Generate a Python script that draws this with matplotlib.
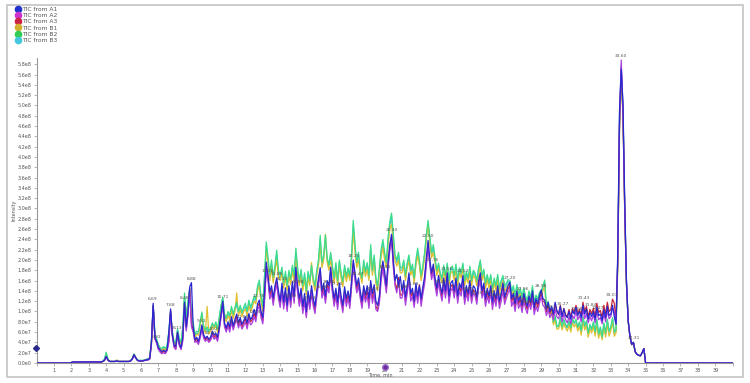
#!/usr/bin/env python3

import numpy as np
import matplotlib
matplotlib.use('Agg')
import matplotlib.pyplot as plt
from matplotlib.lines import Line2D
from matplotlib.patches import Rectangle
from matplotlib.ticker import FuncFormatter, MultipleLocator

# sample times (min): run start, 0.1 min grid over the gradient, run end
time_min = np.concatenate([[0.0, 1.9], np.round(np.arange(2.0, 35.05, 0.1), 1), [35.1, 40.0]])

# TIC intensities in units of 1e6 counts, one row per minute (2.x ... 34.x)
tic_a1 = [0, 0,
  1, 2, 2, 2, 2, 2, 2, 2, 2, 2,
  2, 2, 2, 2, 2, 2, 2, 2, 3, 5,
  13, 6, 3, 3, 3, 3, 4, 3, 3, 3,
  3, 3, 3, 3, 4, 8, 16, 10, 5, 4,
  4, 4, 5, 6, 7, 9, 40, 116, 50, 42,
  30, 26, 22, 25, 22, 26, 60, 105, 55, 35,
  32, 60, 38, 30, 50, 118, 70, 100, 148, 156,
  70, 45, 50, 42, 55, 74, 55, 48, 52, 46,
  50, 62, 54, 58, 50, 70, 95, 120, 78, 68,
  80, 70, 90, 72, 85, 95, 78, 88, 75, 82,
  90, 78, 96, 84, 90, 104, 92, 115, 122, 100,
  88, 140, 196, 170, 138, 150, 126, 150, 165, 140,
  120, 155, 118, 146, 112, 150, 122, 158, 130, 186,
  150, 125, 145, 110, 135, 100, 140, 118, 150, 125,
  110, 140, 165, 185, 140, 155, 130, 160, 150, 186,
  150, 125, 145, 118, 155, 130, 112, 148, 125, 140,
  120, 160, 200, 175, 150, 165, 140, 120, 150, 132,
  150, 125, 160, 135, 152, 120, 112, 130, 175, 198,
  178, 150, 196, 230, 250, 200, 160, 172, 150, 168,
  140, 160, 128, 150, 175, 135, 145, 120, 155, 130,
  150, 125, 148, 168, 205, 238, 200, 175, 192, 165,
  145, 170, 150, 135, 165, 140, 175, 130, 155, 160,
  140, 165, 130, 155, 145, 170, 128, 150, 135, 160,
  130, 150, 145, 128, 160, 175, 140, 155, 125, 145,
  130, 150, 118, 140, 125, 150, 120, 135, 155, 128,
  140, 150, 157, 125, 135, 115, 140, 120, 130, 112,
  135, 120, 110, 130, 118, 140, 108, 125, 115, 130,
  142, 125, 122, 105, 118, 100, 110, 95, 118, 102,
  95, 110, 90, 105, 92, 88, 100, 85, 102, 95,
  108, 92, 100, 88, 112, 95, 105, 85, 98, 90,
  100, 85, 108, 92, 95, 82, 104, 88, 110, 92,
  95, 112, 90, 75, 215, 490, 570, 505, 315, 160,
  82, 52, 36, 40, 22, 17, 15, 14, 20, 28,
  0, 0, 0]

tic_a2 = [0, 0,
  1, 2, 2, 2, 2, 2, 2, 2, 2, 2,
  2, 2, 2, 2, 2, 2, 2, 2, 3, 5,
  11, 5, 3, 3, 3, 3, 3, 3, 3, 3,
  3, 3, 3, 3, 4, 7, 15, 9, 5, 4,
  4, 4, 5, 5, 6, 7, 36, 108, 46, 38,
  26, 21, 18, 20, 18, 24, 40, 98, 52, 30,
  26, 55, 34, 26, 42, 110, 62, 92, 140, 70,
  60, 40, 42, 36, 48, 66, 48, 42, 46, 40,
  44, 54, 46, 50, 42, 64, 88, 112, 70, 60,
  72, 60, 80, 64, 76, 84, 68, 78, 66, 72,
  80, 66, 84, 74, 78, 90, 80, 104, 110, 88,
  76, 120, 180, 160, 124, 136, 112, 138, 152, 125,
  108, 140, 105, 132, 100, 138, 108, 144, 116, 170,
  136, 110, 130, 96, 120, 88, 126, 104, 136, 110,
  96, 128, 152, 170, 126, 140, 116, 146, 136, 172,
  136, 110, 130, 104, 140, 116, 98, 134, 110, 126,
  106, 146, 186, 160, 136, 150, 126, 106, 136, 118,
  132, 106, 146, 116, 136, 104, 100, 116, 160, 184,
  160, 136, 184, 218, 240, 186, 150, 136, 160, 126,
  126, 146, 112, 136, 160, 120, 130, 108, 140, 116,
  146, 110, 134, 154, 190, 225, 188, 162, 178, 150,
  130, 156, 136, 120, 150, 126, 160, 116, 140, 146,
  126, 150, 116, 140, 130, 156, 114, 136, 120, 146,
  116, 136, 130, 114, 146, 160, 126, 140, 110, 130,
  116, 136, 104, 126, 110, 136, 106, 120, 140, 114,
  126, 136, 145, 110, 120, 100, 126, 106, 116, 98,
  120, 106, 96, 116, 104, 126, 94, 110, 100, 116,
  130, 112, 108, 92, 104, 88, 96, 84, 104, 90,
  86, 100, 80, 95, 84, 78, 90, 76, 92, 86,
  100, 84, 92, 80, 104, 86, 96, 78, 90, 82,
  94, 78, 100, 84, 88, 76, 96, 80, 102, 86,
  90, 106, 100, 76, 200, 470, 588, 490, 300, 156,
  82, 52, 36, 40, 22, 17, 15, 14, 20, 28,
  0, 0, 0]

tic_a3 = [0, 0,
  1, 2, 2, 2, 2, 2, 2, 2, 2, 2,
  2, 2, 2, 2, 2, 2, 2, 2, 3, 5,
  12, 6, 3, 3, 3, 3, 4, 3, 3, 3,
  3, 3, 3, 3, 4, 8, 16, 10, 5, 4,
  4, 4, 5, 6, 6, 8, 38, 112, 48, 40,
  28, 24, 20, 23, 20, 26, 42, 102, 56, 33,
  28, 58, 36, 28, 46, 115, 66, 96, 145, 75,
  65, 42, 46, 40, 52, 70, 52, 45, 50, 43,
  47, 57, 50, 54, 46, 68, 92, 116, 74, 64,
  76, 66, 86, 68, 80, 90, 74, 84, 70, 78,
  86, 72, 90, 80, 84, 96, 86, 110, 116, 95,
  82, 126, 186, 166, 130, 142, 118, 144, 158, 132,
  114, 148, 110, 138, 106, 144, 114, 150, 122, 178,
  142, 116, 138, 102, 126, 92, 132, 108, 142, 116,
  102, 134, 158, 178, 132, 146, 122, 152, 142, 180,
  142, 116, 136, 110, 146, 122, 104, 140, 116, 132,
  112, 152, 194, 166, 142, 156, 132, 112, 142, 124,
  140, 114, 152, 124, 142, 110, 104, 124, 168, 192,
  166, 142, 190, 226, 246, 194, 156, 142, 166, 132,
  132, 152, 120, 142, 166, 128, 138, 114, 148, 122,
  152, 118, 142, 162, 196, 232, 195, 170, 185, 158,
  138, 162, 142, 128, 158, 132, 168, 122, 148, 152,
  132, 158, 122, 148, 138, 162, 120, 142, 128, 152,
  122, 142, 138, 120, 152, 168, 132, 148, 118, 138,
  124, 144, 112, 134, 118, 144, 114, 130, 150, 122,
  134, 144, 150, 118, 130, 108, 134, 114, 124, 106,
  130, 114, 104, 124, 112, 134, 102, 120, 108, 124,
  138, 120, 118, 100, 114, 96, 106, 92, 114, 100,
  94, 112, 90, 106, 94, 90, 104, 88, 106, 98,
  112, 96, 104, 92, 118, 100, 110, 90, 104, 96,
  106, 90, 116, 98, 102, 88, 112, 94, 118, 100,
  104, 124, 116, 84, 195, 460, 575, 480, 295, 155,
  82, 52, 36, 40, 22, 17, 15, 14, 20, 28,
  0, 0, 0]

tic_b1 = [0, 0,
  1, 2, 2, 2, 2, 2, 2, 2, 2, 2,
  2, 2, 2, 2, 2, 2, 2, 2, 3, 6,
  15, 6, 3, 3, 3, 3, 6, 4, 3, 3,
  3, 3, 3, 3, 4, 8, 16, 10, 5, 4,
  4, 5, 5, 6, 7, 9, 40, 105, 52, 42,
  32, 27, 25, 28, 25, 30, 55, 95, 55, 38,
  36, 60, 44, 36, 62, 125, 82, 112, 138, 88,
  70, 50, 56, 54, 74, 92, 68, 58, 110, 56,
  62, 72, 66, 74, 60, 84, 105, 120, 88, 80,
  92, 84, 102, 86, 100, 136, 92, 104, 90, 100,
  105, 92, 112, 100, 108, 120, 115, 140, 150, 120,
  100, 160, 220, 195, 160, 185, 155, 180, 200, 165,
  160, 175, 145, 168, 140, 170, 152, 178, 160, 205,
  170, 150, 170, 140, 165, 132, 166, 150, 195, 155,
  140, 170, 190, 230, 185, 200, 250, 195, 180, 200,
  178, 155, 185, 150, 190, 165, 148, 180, 158, 175,
  160, 198, 255, 215, 185, 202, 170, 155, 188, 168,
  182, 160, 215, 170, 198, 155, 140, 175, 205, 225,
  200, 185, 230, 260, 270, 236, 198, 188, 200, 175,
  175, 188, 160, 185, 198, 170, 180, 155, 190, 208,
  190, 160, 180, 205, 240, 272, 232, 204, 215, 195,
  170, 185, 165, 155, 178, 160, 182, 150, 175, 178,
  160, 180, 150, 175, 165, 184, 150, 166, 155, 176,
  150, 170, 165, 150, 172, 188, 160, 172, 145, 162,
  145, 162, 136, 155, 140, 162, 135, 150, 160, 140,
  145, 152, 150, 130, 140, 120, 142, 125, 135, 118,
  135, 120, 112, 130, 118, 140, 108, 122, 115, 128,
  130, 140, 150, 100, 110, 92, 100, 74, 84, 66,
  66, 80, 64, 76, 68, 62, 74, 60, 78, 70,
  76, 62, 72, 54, 82, 64, 74, 50, 66, 58,
  72, 52, 76, 48, 62, 45, 70, 50, 76, 52,
  62, 80, 52, 58, 185, 450, 550, 480, 295, 150,
  80, 50, 35, 40, 22, 17, 15, 14, 20, 28,
  0, 0, 0]

tic_b2 = [0, 0,
  1, 2, 2, 2, 2, 2, 2, 2, 2, 2,
  2, 2, 2, 2, 2, 2, 2, 2, 4, 8,
  21, 8, 3, 3, 3, 3, 5, 3, 3, 3,
  3, 3, 3, 3, 5, 9, 18, 11, 6, 5,
  5, 5, 6, 7, 8, 10, 45, 112, 56, 46,
  36, 30, 28, 32, 28, 34, 62, 100, 62, 42,
  40, 66, 48, 40, 70, 136, 90, 120, 145, 96,
  78, 56, 62, 60, 80, 99, 72, 64, 70, 62,
  68, 78, 70, 80, 66, 90, 112, 128, 95, 88,
  100, 92, 110, 95, 108, 118, 100, 112, 98, 108,
  116, 100, 122, 108, 118, 130, 125, 150, 161, 130,
  110, 170, 235, 205, 172, 200, 167, 190, 219, 180,
  170, 186, 155, 178, 150, 180, 162, 190, 170, 223,
  185, 160, 182, 150, 175, 140, 178, 160, 190, 165,
  150, 180, 200, 248, 195, 210, 248, 205, 190, 215,
  190, 165, 195, 160, 200, 175, 158, 190, 168, 185,
  170, 210, 277, 230, 195, 215, 180, 165, 200, 178,
  195, 170, 230, 180, 210, 165, 150, 185, 220, 240,
  215, 195, 245, 275, 291, 250, 210, 200, 215, 185,
  185, 200, 170, 195, 210, 180, 192, 165, 200, 223,
  200, 170, 190, 215, 250, 277, 245, 215, 230, 205,
  180, 194, 175, 165, 190, 170, 194, 160, 185, 188,
  170, 192, 160, 185, 175, 194, 160, 178, 165, 188,
  160, 180, 175, 160, 185, 200, 170, 182, 155, 172,
  155, 172, 145, 165, 150, 172, 145, 160, 170, 150,
  155, 162, 160, 140, 150, 130, 152, 135, 145, 128,
  145, 130, 122, 140, 128, 150, 118, 132, 125, 138,
  140, 150, 161, 110, 120, 100, 108, 80, 92, 70,
  72, 90, 70, 85, 75, 70, 82, 68, 86, 78,
  85, 70, 80, 62, 90, 72, 82, 58, 75, 66,
  80, 60, 85, 56, 70, 50, 78, 58, 85, 62,
  70, 88, 60, 65, 190, 455, 555, 485, 300, 152,
  80, 52, 36, 40, 22, 17, 15, 14, 20, 28,
  0, 0, 0]

tic_b3 = [0, 0,
  1, 2, 2, 2, 2, 2, 2, 2, 2, 2,
  2, 2, 2, 2, 2, 2, 2, 2, 3, 7,
  18, 7, 3, 3, 3, 3, 4, 3, 3, 3,
  3, 3, 3, 3, 4, 9, 17, 10, 6, 5,
  5, 5, 6, 7, 8, 10, 42, 110, 58, 44,
  34, 28, 26, 30, 27, 32, 58, 98, 58, 40,
  38, 64, 45, 38, 66, 128, 86, 118, 142, 92,
  74, 52, 58, 56, 76, 95, 70, 60, 66, 58,
  64, 74, 66, 76, 62, 86, 110, 125, 92, 84,
  96, 88, 106, 90, 104, 112, 96, 108, 94, 104,
  110, 96, 118, 104, 112, 126, 120, 145, 155, 125,
  104, 165, 228, 200, 165, 192, 160, 185, 210, 172,
  165, 180, 150, 172, 145, 175, 158, 185, 165, 215,
  178, 155, 176, 145, 170, 136, 172, 155, 184, 160,
  145, 175, 195, 240, 190, 205, 240, 200, 185, 210,
  184, 160, 190, 155, 195, 170, 152, 185, 162, 180,
  165, 205, 268, 225, 190, 210, 175, 160, 195, 172,
  190, 165, 222, 175, 205, 160, 145, 180, 214, 232,
  210, 190, 238, 268, 282, 244, 205, 195, 210, 180,
  180, 195, 165, 190, 204, 176, 186, 160, 195, 216,
  195, 165, 185, 210, 244, 266, 240, 210, 224, 200,
  176, 190, 170, 160, 185, 166, 188, 156, 180, 184,
  166, 186, 156, 180, 170, 190, 156, 172, 160, 182,
  156, 176, 170, 156, 180, 195, 166, 178, 150, 168,
  150, 168, 140, 160, 146, 168, 140, 156, 165, 146,
  150, 158, 156, 136, 146, 126, 148, 130, 140, 124,
  140, 126, 118, 136, 124, 145, 114, 128, 120, 134,
  136, 145, 155, 106, 116, 96, 104, 78, 88, 72,
  70, 86, 68, 82, 72, 68, 80, 66, 84, 76,
  82, 68, 78, 60, 88, 70, 80, 56, 72, 64,
  78, 58, 82, 54, 68, 48, 76, 56, 82, 60,
  68, 85, 58, 62, 205, 480, 578, 495, 305, 158,
  80, 50, 35, 40, 22, 17, 15, 14, 20, 28,
  0, 0, 0]

series_names = ['TIC from A1', 'TIC from A2', 'TIC from A3', 'TIC from B1', 'TIC from B2', 'TIC from B3']
series_values = [tic_a1, tic_a2, tic_a3, tic_b1, tic_b2, tic_b3]

# retention times of the labelled peaks
peak_labels = [6.69, 6.92, 7.68, 8.13, 8.48, 8.88, 9.51, 10.03, 10.26, 10.71, 11.30,
               11.86, 12.55, 12.78, 13.26, 13.80, 14.10, 14.62, 14.98, 15.71, 16.36, 16.76,
               17.25, 18.25, 18.47, 19.34, 19.98, 20.40, 20.98, 21.63, 22.50, 22.76,
               23.25, 23.56, 24.52, 24.81, 25.30, 26.05, 26.40, 27.20, 27.96, 28.25, 28.98,
               29.51, 30.27, 31.06, 31.43, 31.84, 32.27, 33.07, 33.60, 34.31]

SCALE = 1e6
LINE_COLORS = ['#2828d0', '#a83ee0', '#c8283c', '#e0c030', '#3ddc8c', '#40c8e0']
LEGEND_COLORS = ['#2233cc', '#cc33cc', '#cc2244', '#d4b030', '#33cc55', '#44c8e0']
DRAW_ORDER = [5, 3, 4, 2, 1, 0]
TEXT_COLOR = '#555555'
AXIS_COLOR = '#999999'


def sci_label(value, pos):
  if value <= 0:
    return '0.0e0'
  exp = int(np.floor(np.log10(value) + 1e-9))
  return '{:.1f}e{}'.format(value / 10 ** exp, exp)


def minute_label(value, pos):
  if value < 0.5 or value > 39.5:
    return ''
  return '{:d}'.format(int(round(value)))


def draw_chart():
  fig = plt.figure(figsize=(7.5, 3.83), dpi=100)
  ax = fig.add_axes([0.0488, 0.0522, 0.928, 0.7963])

  for index in DRAW_ORDER:
    values = np.array(series_values[index], dtype=float) * SCALE
    assert len(values) == len(time_min), (series_names[index], len(values))
    ax.plot(time_min, values, color=LINE_COLORS[index], linewidth=0.9, zorder=2 + DRAW_ORDER.index(index))

  a_group = np.max(np.array(series_values[:3], dtype=float), axis=0) * SCALE
  for rt in peak_labels:
    idx = int(np.argmin(np.abs(time_min - rt)))
    ax.annotate('{:.2f}'.format(rt), (rt, a_group[idx]), xytext=(0, 1.5), textcoords='offset points',
                ha='center', va='bottom', fontsize=3.2, color=TEXT_COLOR, zorder=10, clip_on=False)

  ax.set_xlim(0, 40)
  ax.set_ylim(0, 5.92e8)
  ax.xaxis.set_major_locator(MultipleLocator(1))
  ax.xaxis.set_major_formatter(FuncFormatter(minute_label))
  ax.yaxis.set_major_locator(MultipleLocator(2e7))
  ax.yaxis.set_major_formatter(FuncFormatter(sci_label))
  ax.tick_params(labelsize=3.5, colors=TEXT_COLOR, length=2, width=0.5, pad=1.5)
  ax.tick_params(axis='both', color=AXIS_COLOR)
  for side in ['top', 'right']:
    ax.spines[side].set_visible(False)
  for side in ['left', 'bottom']:
    ax.spines[side].set_color(AXIS_COLOR)
    ax.spines[side].set_linewidth(0.8)

  # run position markers on the axes
  ax.plot([20.0], [-0.08e8], 'o', markersize=4, color='#6a2c9c', markeredgecolor='#9a6ac8',
          clip_on=False, zorder=12)
  ax.plot([-0.05], [0.29e8], 'D', markersize=3, color='#2a2a8c', clip_on=False, zorder=12)

  fig.text(14 / 750, 1 - 210 / 383, 'Intensity', rotation=90, fontsize=3.5, color=TEXT_COLOR,
           ha='center', va='center')
  fig.text(380 / 750, 1 - 375 / 383, 'Time, min', fontsize=3.5, color=TEXT_COLOR, ha='center', va='center')

  handles = [Line2D([], [], marker='o', linestyle='', markersize=4.5, markerfacecolor=c,
                    markeredgecolor=c) for c in LEGEND_COLORS]
  fig.legend(handles, series_names, loc='upper left', bbox_to_anchor=(15 / 750, 1 - 7 / 383),
             frameon=False, fontsize=4.3, handletextpad=0.2, labelspacing=0.16, borderpad=0,
             borderaxespad=0, handlelength=1.0, labelcolor=TEXT_COLOR)

  fig.patches.append(Rectangle((7 / 750, 1 - 377 / 383), 736 / 750, 372 / 383, transform=fig.transFigure,
                               fill=False, edgecolor='#c4c4c4', linewidth=1.2))

  fig.savefig('out.png', dpi=100)


if __name__ == '__main__':
  draw_chart()
